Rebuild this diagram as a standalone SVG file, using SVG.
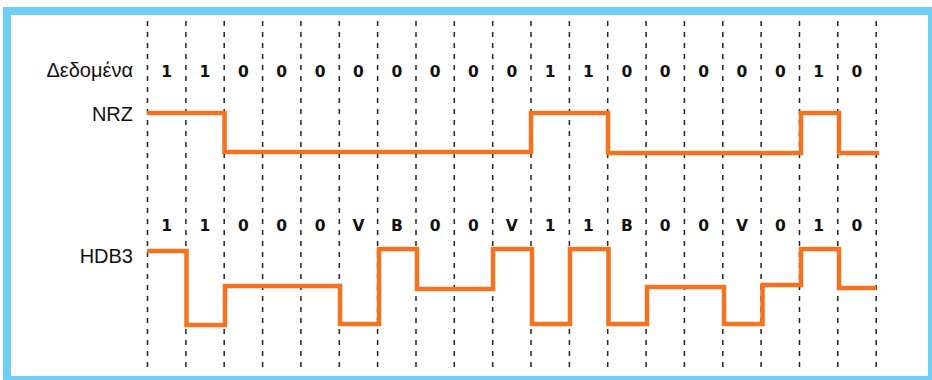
<svg xmlns="http://www.w3.org/2000/svg" width="932" height="380" viewBox="0 0 932 380">
<style>
.lbl{font-family:"Liberation Sans",Arial,sans-serif;font-size:20px;fill:#111;text-anchor:end}
.bit{font-family:"DejaVu Sans",Verdana,sans-serif;font-weight:bold;font-size:15.5px;fill:#111;text-anchor:middle}
.grid line{stroke:#222;stroke-width:1.5;stroke-dasharray:5 6}
.wave{fill:none;stroke:#F47321;stroke-width:4.5;stroke-linejoin:miter;stroke-linecap:butt}
</style>
<rect x="0" y="0" width="932" height="380" fill="#fff"/>
<rect x="7" y="11" width="925" height="369" fill="#fff" stroke="#6DCFF6" stroke-width="8"/>
<g id="grid" class="grid">
<line x1="147.5" y1="21" x2="147.5" y2="367"/>
<line x1="185.9" y1="21" x2="185.9" y2="367"/>
<line x1="224.2" y1="21" x2="224.2" y2="367"/>
<line x1="262.6" y1="21" x2="262.6" y2="367"/>
<line x1="300.9" y1="21" x2="300.9" y2="367"/>
<line x1="339.3" y1="21" x2="339.3" y2="367"/>
<line x1="377.6" y1="21" x2="377.6" y2="367"/>
<line x1="416" y1="21" x2="416" y2="367"/>
<line x1="454.3" y1="21" x2="454.3" y2="367"/>
<line x1="492.7" y1="21" x2="492.7" y2="367"/>
<line x1="531" y1="21" x2="531" y2="367"/>
<line x1="569.4" y1="21" x2="569.4" y2="367"/>
<line x1="607.7" y1="21" x2="607.7" y2="367"/>
<line x1="646.1" y1="21" x2="646.1" y2="367"/>
<line x1="684.4" y1="21" x2="684.4" y2="367"/>
<line x1="722.8" y1="21" x2="722.8" y2="367"/>
<line x1="761.1" y1="21" x2="761.1" y2="367"/>
<line x1="799.5" y1="21" x2="799.5" y2="367"/>
<line x1="837.8" y1="21" x2="837.8" y2="367"/>
<line x1="876.2" y1="21" x2="876.2" y2="367"/>
</g>
<g id="labels">
<text class="lbl" x="133" y="77">Δεδομένα</text>
<text class="lbl" x="133" y="121">NRZ</text>
<text class="lbl" x="133" y="263">HDB3</text>
</g>
<g id="data-bits" class="bit">
<text x="166.7" y="77">1</text>
<text x="205" y="77">1</text>
<text x="243.4" y="77">0</text>
<text x="281.7" y="77">0</text>
<text x="320.1" y="77">0</text>
<text x="358.4" y="77">0</text>
<text x="396.8" y="77">0</text>
<text x="435.1" y="77">0</text>
<text x="473.5" y="77">0</text>
<text x="511.8" y="77">0</text>
<text x="550.2" y="77">1</text>
<text x="588.5" y="77">1</text>
<text x="626.9" y="77">0</text>
<text x="665.2" y="77">0</text>
<text x="703.6" y="77">0</text>
<text x="741.9" y="77">0</text>
<text x="780.3" y="77">0</text>
<text x="818.6" y="77">1</text>
<text x="857" y="77">0</text>
</g>
<g id="hdb3-symbols" class="bit">
<text x="166.7" y="231">1</text>
<text x="205" y="231">1</text>
<text x="243.4" y="231">0</text>
<text x="281.7" y="231">0</text>
<text x="320.1" y="231">0</text>
<text x="358.4" y="231">V</text>
<text x="396.8" y="231">B</text>
<text x="435.1" y="231">0</text>
<text x="473.5" y="231">0</text>
<text x="511.8" y="231">V</text>
<text x="550.2" y="231">1</text>
<text x="588.5" y="231">1</text>
<text x="626.9" y="231">B</text>
<text x="665.2" y="231">0</text>
<text x="703.6" y="231">0</text>
<text x="741.9" y="231">V</text>
<text x="780.3" y="231">0</text>
<text x="818.6" y="231">1</text>
<text x="857" y="231">0</text>
</g>
<g id="nrz-wave">
<path class="wave" d="M147,113 H224.5 V152 H531 V113 H608 V153 H801 V113 H839 V153 H879"/>
</g>
<g id="hdb3-wave">
<path class="wave" d="M147,251 H186.5 V325 H225 V286 H340 V324 H379 V249 H417 V289 H493 V249 H532 V324 H570 V249 H608.5 V324 H647 V287 H724 V324 H762.5 V285 H801 V249 H839 V288 H876.5"/>
</g>
</svg>
